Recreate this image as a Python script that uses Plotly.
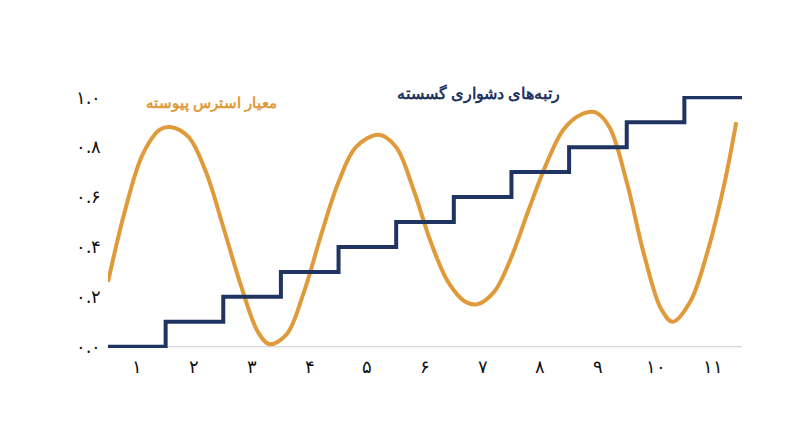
import plotly.graph_objects as go

# step levels (discrete difficulty ranks)
step_x = [0.5, 1.5, 2.5, 3.5, 4.5, 5.5, 6.5, 7.5, 8.5, 9.5, 10.5, 11.5]
step_y = [0.0, 0.1, 0.2, 0.3, 0.4, 0.5, 0.6, 0.7, 0.8, 0.9, 1.0, 1.0]

# continuous stress measure
wave_x = [0.5, 0.8, 1.1, 1.4, 1.6, 1.9, 2.2, 2.5, 2.8, 3.1, 3.3, 3.6, 3.9, 4.2, 4.5,
          4.8, 5.2, 5.5, 5.8, 6.1, 6.4, 6.7, 6.9, 7.2, 7.5, 7.8, 8.1, 8.4, 8.7, 8.95,
          9.2, 9.5, 9.8, 10.1, 10.3, 10.6, 10.9, 11.2, 11.4]
wave_y = [0.26, 0.55, 0.77, 0.87, 0.88, 0.84, 0.70, 0.48, 0.25, 0.06, 0.01, 0.05, 0.22,
          0.45, 0.66, 0.80, 0.85, 0.80, 0.63, 0.42, 0.26, 0.18, 0.17, 0.22, 0.36, 0.55,
          0.73, 0.87, 0.93, 0.94, 0.88, 0.66, 0.37, 0.15, 0.10, 0.18, 0.38, 0.66, 0.90]

x_ticks = list(range(1, 12))
x_labels = ["۱", "۲", "۳", "۴", "۵", "۶", "۷", "۸", "۹", "۱۰", "۱۱"]
y_ticks = [0, 0.2, 0.4, 0.6, 0.8, 1.0]
y_labels = ["۰.۰", "۰.۲", "۰.۴", "۰.۶", "۰.۸", "۱.۰"]

navy = "#1f3461"
orange = "#e09a3a"

fig = go.Figure()
fig.add_trace(go.Scatter(x=wave_x, y=wave_y, mode="lines", line=dict(color=orange, width=4, shape="spline"),
                         cliponaxis=False))
fig.add_trace(go.Scatter(x=step_x, y=step_y, mode="lines", line=dict(color=navy, width=4, shape="hv"),
                         cliponaxis=False))

fig.add_annotation(x=470, y=85, xref="paper", yref="paper", text="<b>رتبه‌های دشواری گسسته</b>",
                   showarrow=False, font=dict(color=navy, size=16, family="Noto Sans"))
fig.add_annotation(x=2.3, y=0.98, text="<b>معیار استرس پیوسته</b>", showarrow=False,
                   xanchor="center", font=dict(color=orange, size=15, family="Noto Sans"))

fig.update_layout(
    width=800, height=447, showlegend=False,
    plot_bgcolor="white", paper_bgcolor="white",
    margin=dict(l=100, r=66, t=88, b=107),
    font=dict(family="Noto Sans", size=18, color="#111"),
    xaxis=dict(range=[0.5, 11.5], tickvals=x_ticks, ticktext=x_labels, showgrid=False,
               zeroline=False, showline=False, ticklen=0, ticklabelstandoff=6),
    yaxis=dict(range=[-0.005, 1.005], tickvals=y_ticks, ticktext=y_labels, showgrid=False,
               zeroline=False, showline=False, ticklen=0, ticklabelstandoff=6),
)
# place navy label in paper coords matching picture position
fig.layout.annotations[0].update(x=(470 - 100) / 634, y=(447 - 107 - 85 + 88 - 88) / 252 + 0.0)
fig.layout.annotations[0].update(y=(340 - 85) / 252, yanchor="middle", xanchor="center")
fig.add_shape(type="line", xref="x", yref="y", x0=0.5, x1=11.5, y0=0, y1=0,
              line=dict(color="#cccccc", width=1), layer="below")

fig.write_html("out.html")
